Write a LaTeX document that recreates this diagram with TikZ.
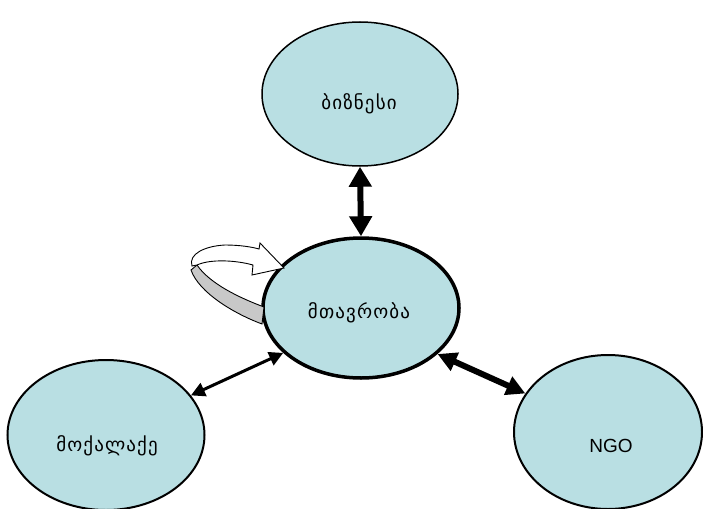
\documentclass[tikz,border=0pt]{standalone}
\usepackage{fontspec}
\setmainfont{Liberation Sans}
\newfontfamily\geo[LetterSpace=6]{DejaVu Sans}
\usetikzlibrary{shapes.geometric,arrows.meta}
\definecolor{ellfill}{RGB}{185,223,227}
\definecolor{bandgray}{RGB}{200,200,200}
\tikzset{
  ell/.style={ellipse, draw=black, fill=ellfill, inner sep=0pt},
  lbl/.style={font=\geo\fontsize{19pt}{22pt}\selectfont, inner sep=0pt},
}
\begin{document}
\begin{tikzpicture}[x=1pt,y=-1pt]
\useasboundingbox (0,0) rectangle (703,508);
% ellipses
\node[ell, line width=1.5pt, minimum width=196pt, minimum height=144pt] (biz) at (360,94) {};
\node[ell, line width=3.5pt, minimum width=196pt, minimum height=140pt] (gov) at (361,308) {};
\node[ell, line width=2pt, minimum width=197pt, minimum height=150pt] (cit) at (106,435) {};
\node[ell, line width=2pt, minimum width=188pt, minimum height=154pt] (ngo) at (608,432) {};
% labels
\node[lbl] (bizt) at (359,104) {ბიზნესი};
\node[lbl] (govt) at (359,313) {მთავრობა};
\node[lbl] (citt) at (107,446) {მოქალაქე};
\node[font=\fontsize{19pt}{22pt}\selectfont, inner sep=0pt] (ngot) at (611,446) {NGO};
% connectors
\draw[line width=6pt, {Triangle[length=20pt,width=22pt]}-{Triangle[length=20pt,width=22pt]}] (biz.south) -- (gov.north);
\draw[line width=3pt, {Triangle[length=14pt,width=14pt]}-{Triangle[length=14pt,width=14pt]}] (cit.25) -- (gov.210);
\draw[line width=6pt, {Triangle[length=19pt,width=19pt]}-{Triangle[length=19pt,width=19pt]}] (gov.329) -- (ngo.155);
% curved ribbon arrow (self loop)
\fill[bandgray, draw=black, line width=0.9pt]
  (262,324) .. controls (235,314) and (199,293) .. (191,270)
  -- (197,265) .. controls (210,284) and (240,298) .. (264,307) -- cycle;
\fill[white, draw=black, line width=0.9pt]
  (192,266) .. controls (188,254) and (205,246) .. (225,245)
  .. controls (240,245) and (252,247) .. (259,249)
  -- (260,243) -- (284,268) -- (252,275) -- (253,265)
  .. controls (235,260) and (210,259) .. (197,265) -- cycle;
\end{tikzpicture}
\end{document}
